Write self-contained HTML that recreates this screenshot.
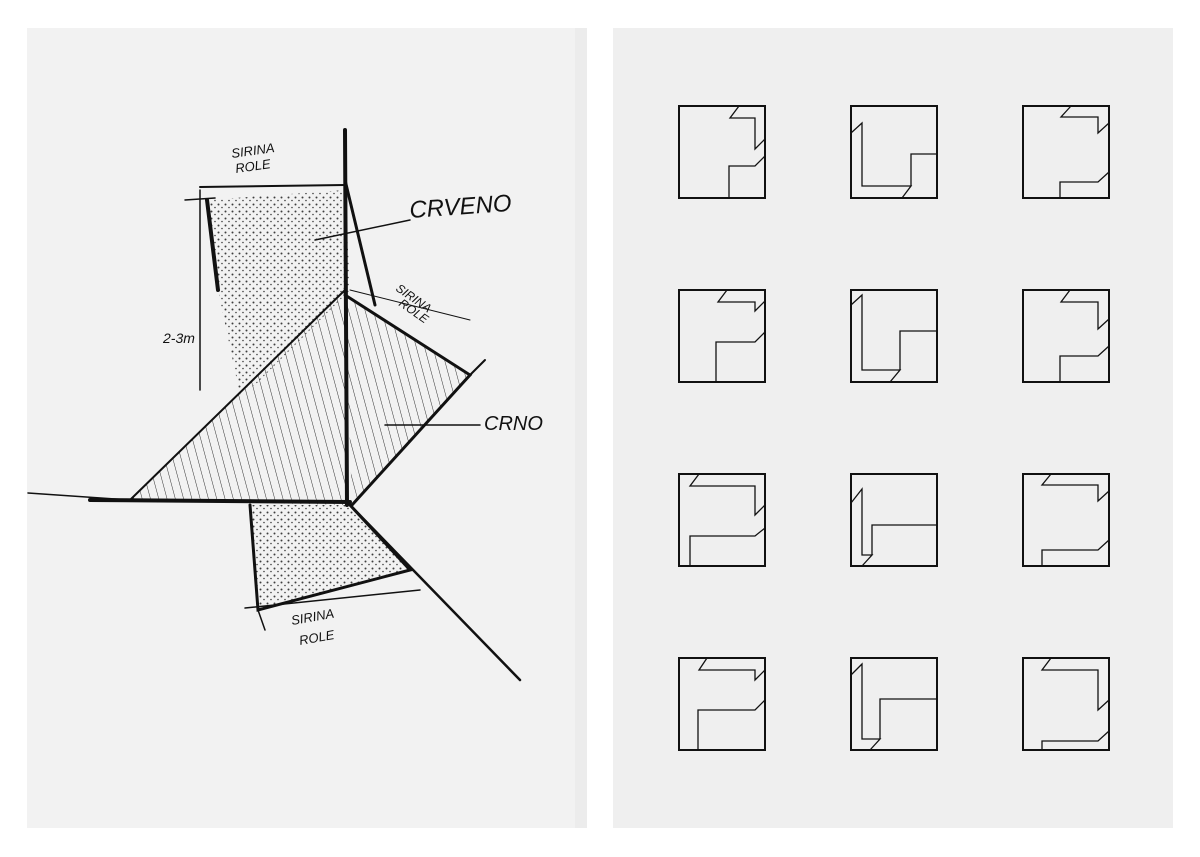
<!DOCTYPE html>
<html><head><style>
body{margin:0;background:#fff;}
svg{display:block}
</style></head><body>
<svg width="1200" height="857" viewBox="0 0 1200 857" xmlns="http://www.w3.org/2000/svg">
<defs>
<pattern id="dots" width="7" height="7" patternUnits="userSpaceOnUse">
<circle cx="1.5" cy="1.5" r="1" fill="#111"/><circle cx="5" cy="4.5" r="0.8" fill="#111"/>
</pattern>
<pattern id="hatch" width="8" height="8" patternUnits="userSpaceOnUse" patternTransform="rotate(-15)">
<line x1="0" y1="0" x2="0" y2="8" stroke="#333" stroke-width="1"/>
</pattern>
</defs>
<rect width="1200" height="857" fill="#fff"/>
<rect x="27" y="28" width="548" height="800" fill="#f2f2f2"/>
<rect x="575" y="28" width="12" height="800" fill="#ececec"/>
<rect x="613" y="28" width="560" height="800" fill="#efefef"/>

<!-- sketch -->
<g stroke="#111" fill="none" stroke-linecap="round">
<polygon points="207,200 345,190 350,290 300,340 255,385 240,395 218,290" fill="url(#dots)" stroke="none" opacity="0.8"/>
<polygon points="130,500 345,290 345,505" fill="url(#hatch)" stroke="none"/>
<polygon points="345,295 470,375 352,505" fill="url(#hatch)" stroke="none"/>
<polygon points="250,505 350,505 410,570 258,610" fill="url(#dots)" stroke="none" opacity="0.8"/>
<path d="M207,200 L218,290" stroke-width="4"/>
<path d="M200,187 L345,185" stroke-width="2"/>
<path d="M345,130 L347,505" stroke-width="4"/>
<path d="M345,180 L375,305" stroke-width="3"/>
<path d="M345,295 L470,375 L352,505" stroke-width="3"/>
<path d="M470,375 L485,360" stroke-width="2"/>
<path d="M130,500 L345,290" stroke-width="2"/>
<path d="M28,493 L130,500" stroke-width="1.5"/>
<path d="M90,500 L350,502" stroke-width="4"/>
<path d="M350,505 L520,680" stroke-width="2.5"/>
<path d="M350,505 L410,570 L258,610 L250,505" stroke-width="3"/>
<path d="M245,608 L420,590" stroke-width="1.5"/>
<path d="M258,610 L265,630" stroke-width="1.5"/>
<path d="M200,190 L200,390" stroke-width="1.5"/>
<path d="M185,200 L215,198" stroke-width="1.5"/>
<path d="M315,240 L410,220" stroke-width="1.5"/>
<path d="M385,425 L480,425" stroke-width="1.5"/>
<path d="M350,290 L470,320" stroke-width="1"/>
</g>
<g font-family="Liberation Sans, sans-serif" fill="#111" font-style="italic">
<text x="232" y="158" font-size="13" transform="rotate(-8 232 158)">SIRINA</text>
<text x="236" y="173" font-size="13" transform="rotate(-8 236 173)">ROLE</text>
<text x="410" y="218" font-size="24" transform="rotate(-4 410 218)">CRVENO</text>
<text x="395" y="290" font-size="12" transform="rotate(35 395 290)">SIRINA</text>
<text x="398" y="305" font-size="12" transform="rotate(35 398 305)">ROLE</text>
<text x="163" y="343" font-size="14">2-3m</text>
<text x="484" y="430" font-size="20">CRNO</text>
<text x="292" y="625" font-size="13" transform="rotate(-10 292 625)">SIRINA</text>
<text x="300" y="645" font-size="13" transform="rotate(-10 300 645)">ROLE</text>
</g>

<!-- grid -->
<g fill="none" stroke="#111" stroke-width="1.3">
<g transform="translate(679,106)"><rect width="86" height="92" stroke-width="2"/>
<path d="M60,0 L51,12 L76,12 L76,43 L86,33 M50,92 L50,60 L76,60 L86,50"/></g>
<g transform="translate(851,106)"><rect width="86" height="92" stroke-width="2"/>
<path d="M0,27 L11,17 L11,80 L60,80 L51,92 M60,80 L60,48 L86,48"/></g>
<g transform="translate(1023,106)"><rect width="86" height="92" stroke-width="2"/>
<path d="M48,0 L38,11 L75,11 L75,27 L86,17 M86,66 L75,76 L37,76 L37,92"/></g>
<g transform="translate(679,290)"><rect width="86" height="92" stroke-width="2"/>
<path d="M48,0 L39,12 L76,12 L76,21 L86,11 M37,92 L37,52 L76,52 L86,42"/></g>
<g transform="translate(851,290)"><rect width="86" height="92" stroke-width="2"/>
<path d="M0,15 L11,5 L11,80 L49,80 L39,92 M49,80 L49,41 L86,41"/></g>
<g transform="translate(1023,290)"><rect width="86" height="92" stroke-width="2"/>
<path d="M47,0 L38,12 L75,12 L75,39 L86,29 M86,56 L75,66 L37,66 L37,92"/></g>
<g transform="translate(679,474)"><rect width="86" height="92" stroke-width="2"/>
<path d="M20,0 L11,12 L76,12 L76,41 L86,31 M11,92 L11,62 L76,62 L86,54"/></g>
<g transform="translate(851,474)"><rect width="86" height="92" stroke-width="2"/>
<path d="M0,29 L11,15 L11,81 L21,81 L11,92 M21,81 L21,51 L86,51"/></g>
<g transform="translate(1023,474)"><rect width="86" height="92" stroke-width="2"/>
<path d="M28,0 L19,11 L75,11 L75,27 L86,17 M86,66 L75,76 L19,76 L19,92"/></g>
<g transform="translate(679,658)"><rect width="86" height="92" stroke-width="2"/>
<path d="M28,0 L20,12 L76,12 L76,22 L86,12 M19,92 L19,52 L76,52 L86,42"/></g>
<g transform="translate(851,658)"><rect width="86" height="92" stroke-width="2"/>
<path d="M0,17 L11,6 L11,81 L29,81 L19,92 M29,81 L29,41 L86,41"/></g>
<g transform="translate(1023,658)"><rect width="86" height="92" stroke-width="2"/>
<path d="M28,0 L19,12 L75,12 L75,52 L86,42 M86,73 L75,83 L19,83 L19,92"/></g>
</g>
</svg>
</body></html>
